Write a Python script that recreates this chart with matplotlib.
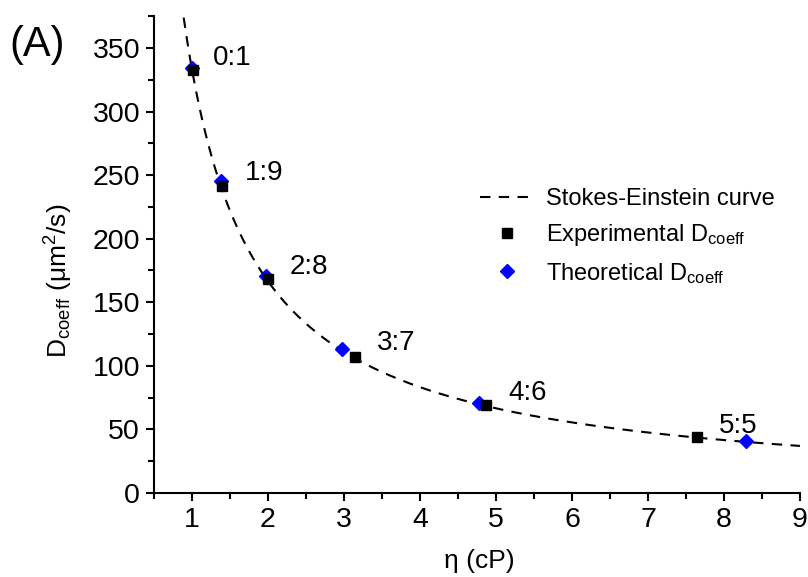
import numpy as np
import matplotlib
matplotlib.use("Agg")
import matplotlib.pyplot as plt
from matplotlib.ticker import MultipleLocator

plt.rcParams["font.family"] = ["Liberation Sans", "DejaVu Sans"]
plt.rcParams["mathtext.fontset"] = "custom"
plt.rcParams["mathtext.rm"] = "Liberation Sans"
plt.rcParams["mathtext.it"] = "Liberation Sans"

# Data
ratios = ["0:1", "1:9", "2:8", "3:7", "4:6", "5:5"]
exp_eta = [1.01, 1.39, 2.00, 3.14, 4.87, 7.64]
exp_d = [333, 241.5, 168, 107, 69, 44]
theo_eta = [1.00, 1.38, 1.97, 2.97, 4.78, 8.29]
theo_d = [334, 245, 170.5, 113, 71, 40.5]
label_x = [1.28, 1.70, 2.28, 3.43, 5.16, 7.93]
label_y = [342, 252, 178, 118, 79, 53]

# Stokes-Einstein: D = D0 / eta
d0 = 333
eta_curve = np.linspace(0.85, 9.0, 400)

fig = plt.figure(figsize=(8.08, 5.77), dpi=100)
ax = fig.add_axes([0.1906, 0.1456, 0.7994, 0.8264])

curve, = ax.plot(eta_curve, d0 / eta_curve, ls=(0, (5, 4)), color="black",
                 lw=1.5, label="Stokes-Einstein curve")
theo, = ax.plot(theo_eta, theo_d, ls="none", marker="D", ms=7,
                color="#0000ff", label="Theoretical D$_{\\mathregular{coeff}}$")
exp, = ax.plot(exp_eta, exp_d, ls="none", marker="s", ms=7, color="black",
               label="Experimental D$_{\\mathregular{coeff}}$")

for r, x, y in zip(ratios, label_x, label_y):
    ax.text(x, y, r, fontsize=20, ha="left", va="center")

ax.set_xlim(0.5, 9)
ax.set_ylim(0, 375)
ax.xaxis.set_major_locator(MultipleLocator(1))
ax.xaxis.set_minor_locator(MultipleLocator(0.5))
ax.yaxis.set_major_locator(MultipleLocator(50))
ax.yaxis.set_minor_locator(MultipleLocator(25))
ax.spines["top"].set_visible(False)
ax.spines["right"].set_visible(False)
ax.spines["left"].set_linewidth(1.5)
ax.spines["bottom"].set_linewidth(1.5)
ax.tick_params(which="major", direction="out", length=6, width=1.5,
               labelsize=20.5, pad=4)
ax.tick_params(which="minor", direction="out", length=4, width=1.5)

ax.set_xlabel("\u03b7 (cP)", fontsize=19)
ax.xaxis.set_label_coords(0.504, -0.118)
ax.set_ylabel("D$_{\\mathregular{coeff}}$ (\u03bcm$^{\\mathregular{2}}$/s)",
              fontsize=19)
ax.yaxis.set_label_coords(-0.122, 0.445)

ax.legend(handles=[curve, exp, theo], loc="upper left",
          bbox_to_anchor=(0.594, 0.674), bbox_transform=fig.transFigure,
          frameon=False, borderpad=0, borderaxespad=0, fontsize=17,
          handlelength=2.3, handletextpad=0.5, labelspacing=0.52)

fig.text(0.012, 0.922, "(A)", fontsize=30, va="center")

fig.savefig("out.png", dpi=100)
